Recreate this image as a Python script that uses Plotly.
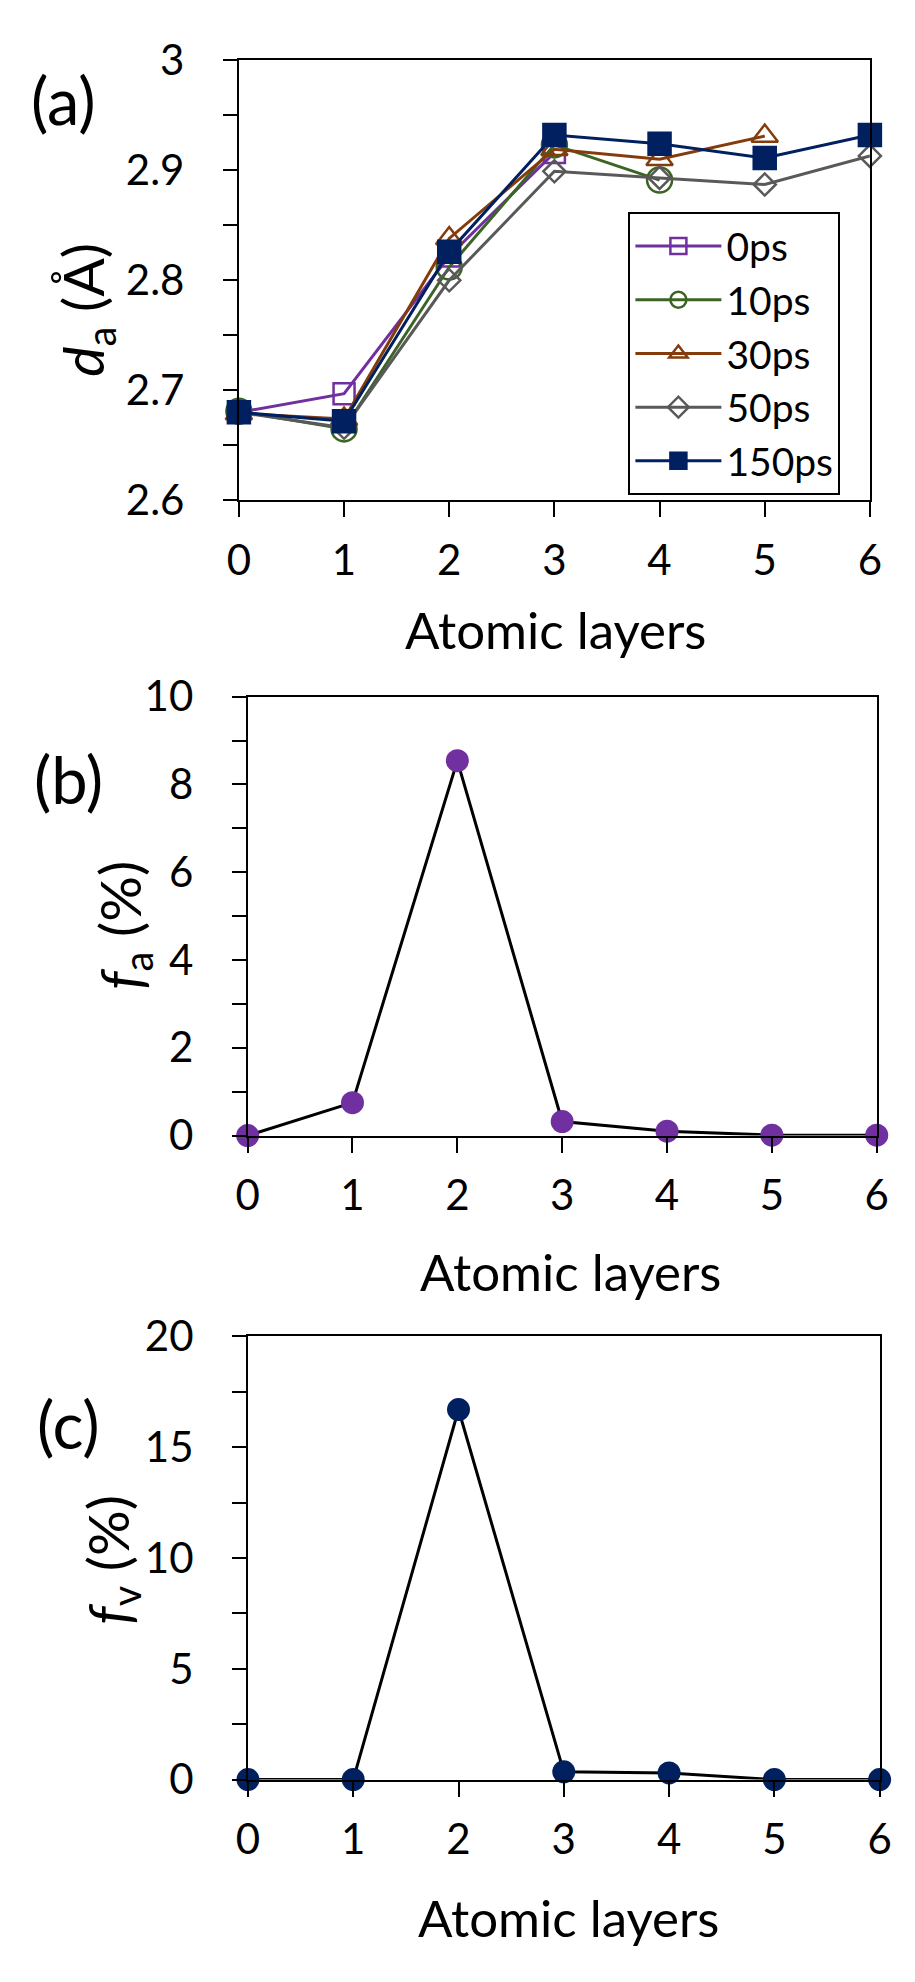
import plotly.graph_objects as go

# x positions shared by all three panels
layers = [0, 1, 2, 3, 4, 5, 6]

# (a) interlayer distance d_a (Å) for each delay time
d_0ps = [2.680, 2.697, 2.822, 2.916]
d_10ps = [2.681, 2.665, 2.812, 2.923, 2.891]
d_30ps = [2.679, 2.674, 2.838, 2.919, 2.910, 2.931]
d_50ps = [2.680, 2.666, 2.800, 2.899, 2.893, 2.887, 2.913]
d_150ps = [2.680, 2.672, 2.826, 2.932, 2.924, 2.911, 2.932]

# (b) f_a (%) and (c) f_v (%)
f_a = [0.0, 0.75, 8.54, 0.32, 0.10, 0.01, 0.01]
f_v = [0.0, 0.0, 16.7, 0.35, 0.30, 0.0, 0.0]

W, H = 915, 1982
FONT = "Lato"

series_a = [
    ("0ps", d_0ps, "#7030A0", "square-open", 21),
    ("10ps", d_10ps, "#3C6424", "circle-open", 25),
    ("30ps", d_30ps, "#843C0C", "triangle-up-open", 23),
    ("50ps", d_50ps, "#595959", "diamond-open", 17),
    ("150ps", d_150ps, "#002060", "square", 22),
]

fig = go.Figure()

for name, vals, col, sym, sz in series_a:
    fig.add_trace(go.Scatter(
        x=layers[:len(vals)], y=vals, name=name, mode="lines+markers",
        line=dict(color=col, width=3),
        marker=dict(symbol=sym, size=sz, color=col, line=dict(color=col, width=2.5)),
        cliponaxis=False, xaxis="x", yaxis="y",
    ))

fig.add_trace(go.Scatter(
    x=layers, y=f_a, mode="lines+markers", showlegend=False,
    line=dict(color="black", width=3),
    marker=dict(size=23, color="#7030A0"),
    cliponaxis=False, xaxis="x2", yaxis="y2",
))
fig.add_trace(go.Scatter(
    x=layers, y=f_v, mode="lines+markers", showlegend=False,
    line=dict(color="black", width=3),
    marker=dict(size=23, color="#002060"),
    cliponaxis=False, xaxis="x3", yaxis="y3",
))


def px_x(v):
    return v / W


def px_y(v):
    return 1 - v / H


TICK = 42
xcommon = dict(range=[0, 6], dtick=1, tick0=0, showline=True, mirror=True,
               linecolor="black", linewidth=2, ticks="outside", ticklen=15,
               tickwidth=2, tickcolor="black", showgrid=False, zeroline=False,
               tickfont=dict(size=TICK, color="black", family=FONT),
               ticklabelstandoff=7)
ycommon = dict(showline=True, mirror=True, linecolor="black", linewidth=2,
               ticks="outside", ticklen=14, tickwidth=2, tickcolor="black",
               showgrid=False, zeroline=False,
               tickfont=dict(size=TICK, color="black", family=FONT),
               ticklabelstandoff=30)

minor_a = dict(ticks="outside", ticklen=14, tickwidth=2, tickcolor="black", dtick=0.05, showgrid=False)
minor_b = dict(ticks="outside", ticklen=14, tickwidth=2, tickcolor="black", dtick=1, showgrid=False)
minor_c = dict(ticks="outside", ticklen=14, tickwidth=2, tickcolor="black", dtick=2.5, showgrid=False)

fig.update_layout(
    width=W, height=H,
    margin=dict(l=0, r=0, t=0, b=0),
    paper_bgcolor="white", plot_bgcolor="white",
    font=dict(family=FONT, color="black"),
    xaxis=dict(xcommon, domain=[px_x(233), px_x(881)], anchor="y"),
    yaxis=dict(ycommon, domain=[px_y(486.7), px_y(35)], anchor="x",
               range=[2.6, 3.0], dtick=0.1, tick0=2.6, minor=minor_a),
    xaxis2=dict(xcommon, domain=[px_x(242), px_x(888)], anchor="y2"),
    yaxis2=dict(ycommon, domain=[px_y(1138.3), px_y(688)], anchor="x2",
                range=[0, 10], dtick=2, tick0=0, minor=minor_b),
    xaxis3=dict(xcommon, domain=[px_x(242.3), px_x(891)], anchor="y3"),
    yaxis3=dict(ycommon, domain=[px_y(1799), px_y(1344.3)], anchor="x3",
                range=[0, 20], dtick=5, tick0=0, minor=minor_c),
    legend=dict(x=px_x(633), y=px_y(191), xanchor="left", yanchor="top",
                bordercolor="black", borderwidth=2, bgcolor="white",
                font=dict(size=39, color="black", family=FONT),
                itemwidth=86),
)

ann = []
# panel labels
for txt, x, y in [("(a)", 52.5, 76), ("(b)", 58, 773), ("(c)", 58, 1434)]:
    ann.append(dict(text=txt, x=px_x(x), y=px_y(y), font=dict(size=65)))
# axis titles
for txt, x, y in [("Atomic layers", 558, 619), ("Atomic layers", 574, 1278),
                  ("Atomic layers", 571, 1940)]:
    ann.append(dict(text=txt, x=px_x(x), y=px_y(y), font=dict(size=51)))
for txt, x, y in [("<i>d</i><sub>a</sub> (Å)", 76, 291),
                  ("<i>f</i><sub>a</sub> (%)", 114, 923),
                  ("<i>f</i><sub>v</sub> (%)", 102, 1573)]:
    ann.append(dict(text=txt, x=px_x(x), y=px_y(y), textangle=-90, font=dict(size=57)))

for a in ann:
    a.update(xref="paper", yref="paper", xanchor="center", yanchor="middle",
             showarrow=False)
    a["font"].update(family=FONT, color="black")
fig.update_layout(annotations=ann)

# drop the default page margin so the figure sits at the window's corner
fig.write_html("out.html", config={"displayModeBar": False},
               post_script="document.body.style.margin='0';")
